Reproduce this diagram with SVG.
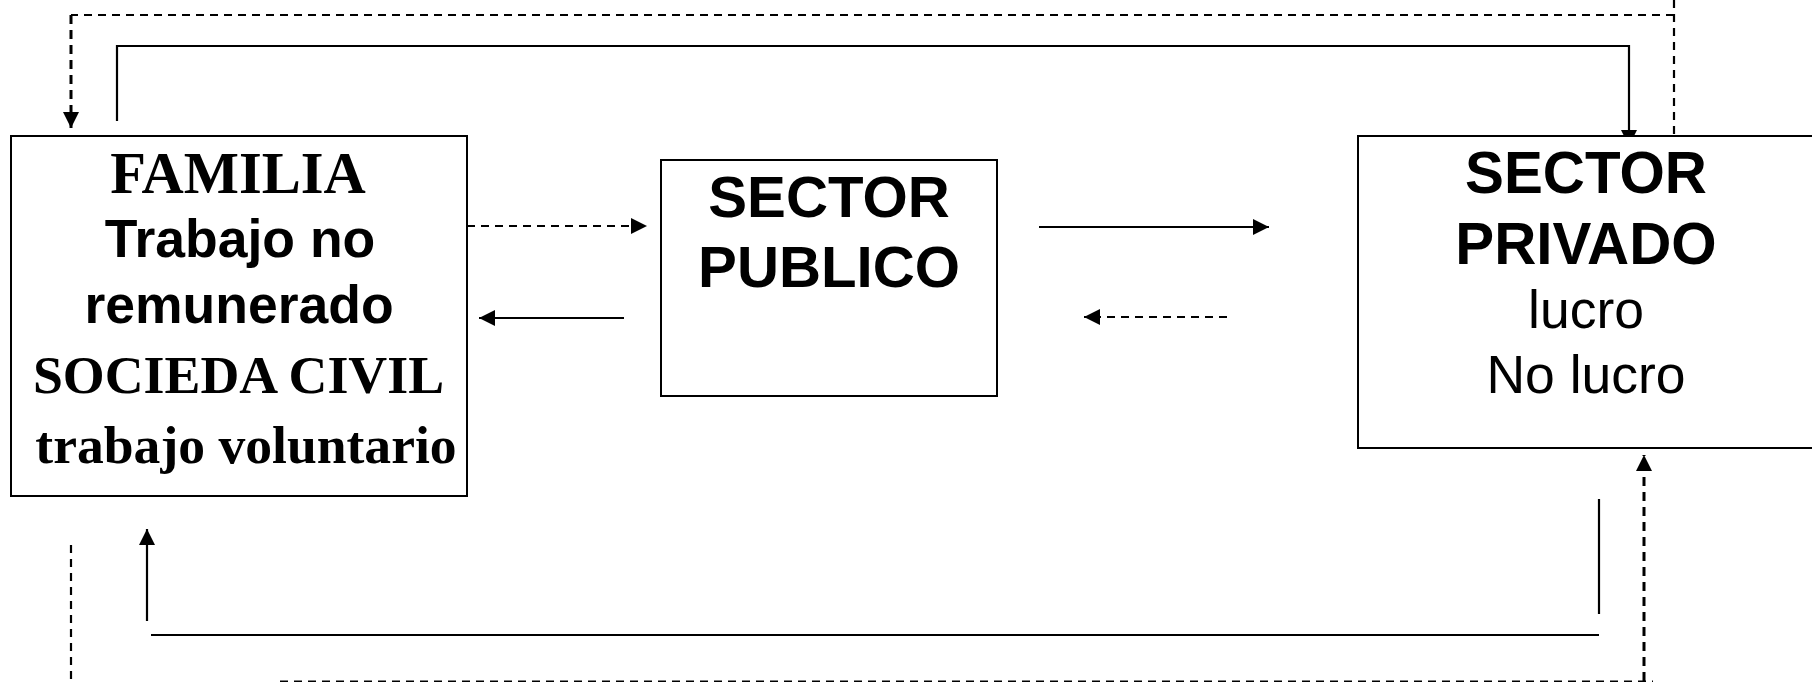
<svg xmlns="http://www.w3.org/2000/svg" width="1812" height="682" viewBox="0 0 1812 682">
<style>
.box{fill:#fff;stroke:#000;stroke-width:2}
.ln{fill:none;stroke:#000;stroke-width:2.2}
.dash{fill:none;stroke:#000;stroke-width:2.2;stroke-dasharray:8 6}
.dashv{fill:none;stroke:#000;stroke-width:3;stroke-dasharray:9 6}
.serif{font-family:"Liberation Serif","Times New Roman",serif;font-weight:bold;fill:#000;text-anchor:middle}
.sansb{font-family:"Liberation Sans",Arial,sans-serif;font-weight:bold;fill:#000;text-anchor:middle}
.sans{font-family:"Liberation Sans",Arial,sans-serif;fill:#000;text-anchor:middle}
</style>
<defs>
<marker id="ah" markerUnits="userSpaceOnUse" markerWidth="18" markerHeight="18" refX="16" refY="8" orient="auto">
<path d="M0,0 L16,8 L0,16 z" fill="#000"/>
</marker>
</defs>
<rect width="1812" height="682" fill="#fff"/>
<g id="connectors">
<path class="dash" d="M1674,0 V143 M1674,15 H71"/>
<path class="dashv" d="M71,15 V128" marker-end="url(#ah)"/>
<path class="ln" d="M117,121 V46 H1629 V146" marker-end="url(#ah)"/>
<path class="dash" d="M467,226 H647" marker-end="url(#ah)"/>
<path class="ln" d="M624,318 H479" marker-end="url(#ah)"/>
<path class="ln" d="M1039,227 H1269" marker-end="url(#ah)"/>
<path class="dash" d="M1227,317 H1084" marker-end="url(#ah)"/>
<path class="ln" d="M1599,499 V614"/>
<path class="ln" d="M1599,635 H151"/>
<path class="ln" d="M147,621 V529" marker-end="url(#ah)"/>
<path class="dash" d="M71,545 V682"/>
<path class="dash" d="M280,681.5 H1653"/>
<path class="dashv" d="M1644,681 V455" marker-end="url(#ah)"/>
</g>
<g id="familia">
<rect class="box" x="11" y="136" width="456" height="360"/>
<text class="serif" x="238" y="193" font-size="58.5">FAMILIA</text>
<text class="sansb" x="240" y="257" font-size="53.5">Trabajo no</text>
<text class="sansb" x="239" y="323" font-size="53.5">remunerado</text>
<text class="serif" x="238.5" y="393" font-size="53.8">SOCIEDA CIVIL</text>
<text class="serif" x="246" y="463" font-size="53.6">trabajo voluntario</text>
</g>
<g id="publico">
<rect class="box" x="661" y="160" width="336" height="236"/>
<text class="sansb" x="829" y="217" font-size="58.2">SECTOR</text>
<text class="sansb" x="829" y="287" font-size="58.2">PUBLICO</text>
</g>
<g id="privado">
<rect class="box" x="1358" y="136" width="458" height="312"/>
<text class="sansb" x="1586" y="193" font-size="58.3">SECTOR</text>
<text class="sansb" x="1586" y="264" font-size="58.3">PRIVADO</text>
<text class="sans" x="1586" y="328" font-size="53.5">lucro</text>
<text class="sans" x="1586" y="393" font-size="53.5">No lucro</text>
</g>
</svg>
